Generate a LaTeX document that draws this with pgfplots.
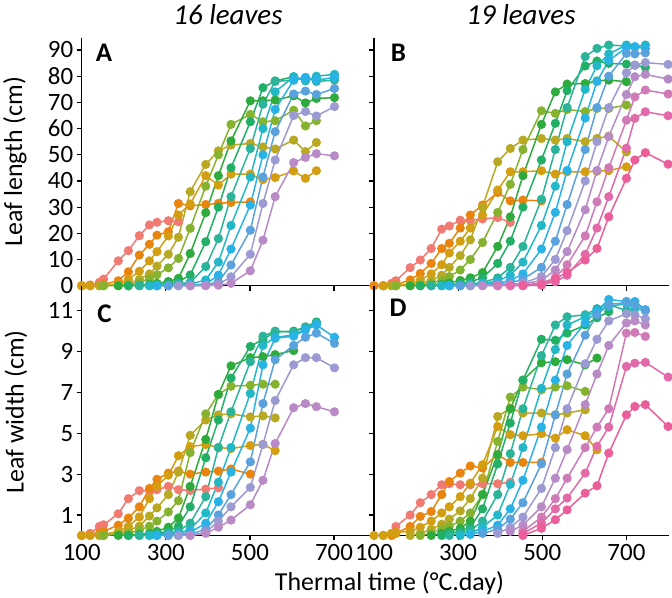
\documentclass[border=0pt]{standalone}
\usepackage{fontspec}
\setmainfont{Carlito}
\usepackage{pgfplots}
\pgfplotsset{compat=1.18}

\definecolor{c1}{HTML}{F17B72}
\definecolor{c2}{HTML}{E9850F}
\definecolor{c3}{HTML}{D49E12}
\definecolor{c4}{HTML}{B8A822}
\definecolor{c5}{HTML}{86B32F}
\definecolor{c6}{HTML}{2EAB3C}
\definecolor{c7}{HTML}{22AF66}
\definecolor{c8}{HTML}{2BB49A}
\definecolor{c9}{HTML}{22B8C8}
\definecolor{c10}{HTML}{29B2E5}
\definecolor{c11}{HTML}{5AA2DD}
\definecolor{c12}{HTML}{9C9AD3}
\definecolor{c13}{HTML}{B88AC6}
\definecolor{c14}{HTML}{D07BB8}
\definecolor{c15}{HTML}{E26AA8}
\definecolor{c16}{HTML}{EC5E9A}

\pgfplotsset{
  panel/.style={
    scale only axis,
    anchor=south west,
    axis x line*=bottom, axis y line*=left,
    axis line style={line width=1.3bp, -},
    tick align=outside,
    major tick length=5bp,
    tick style={line width=1.2bp, black},
    xmin=100,
    xtick={100,300,500,700},
    clip=false,
    ticklabel style={font=\fontsize{25}{25}\selectfont},
    /pgf/number format/assume math mode=true,
    every axis plot/.append style={line width=1.5bp, mark=*, mark size=3.8bp},
  },
}

\begin{document}
\begin{tikzpicture}
\path[use as bounding box] (0,0) rectangle (672bp,598bp);

% ---------------- Panel A : 16 leaves, length
\begin{axis}[panel, at={(81.7bp,312.3bp)}, width=292.3bp, height=248bp,
  xmax=795, ymin=0, ymax=94.7, ytick={0,10,...,90}, xticklabels={}]
\addplot[c1] coordinates {(100,0)(120,0.3)(142,1.3)(152,2.5)(187,9.5)(211,13.4)(237,19.1)(261,23.2)(279,24.2)(306,24.8)(330,24.4)};
\addplot[c2] coordinates {(100,0)(120,0)(142,0.2)(152,0.5)(187,1.9)(211,5.3)(237,11.7)(261,15.8)(279,19.3)(306,20.6)(330,31.4)(358,30.5)(395,31)(425,31.4)(455,31.8)(501,32)};
\addplot[c3] coordinates {(100,0)(120,0)(142,0)(152,0.1)(187,0.5)(211,2.4)(237,5.5)(261,9.5)(279,13)(306,19)(330,27)(358,31.2)(395,42)(425,38.4)(455,42.6)(501,42.6)(531,40.5)(560,41.3)(604,43.8)(632,41)(658,43.9)};
\addplot[c4] coordinates {(142,0)(152,0)(187,0.2)(211,0.8)(237,2.4)(261,4.5)(279,7.5)(306,12)(330,18.5)(358,35.9)(395,46.3)(425,51.5)(455,53.7)(501,54.3)(531,53)(560,52.2)(604,55.6)(632,51.2)(658,54.7)};
\addplot[c5] coordinates {(152,0)(187,0)(211,0.3)(237,1.2)(261,2.6)(279,4.2)(306,6.8)(330,10.4)(358,21.9)(395,38)(425,50)(455,61.6)(501,65.4)(531,62.6)(560,63)(604,67)(632,61)(658,63)};
\addplot[c6] coordinates {(187,0)(211,0)(237,0.2)(261,0.5)(279,0.9)(306,1.6)(330,2.8)(358,12.3)(395,27.9)(425,42)(455,55.3)(501,70.6)(531,70.6)(560,70.9)(604,72.5)(632,69.8)(658,71.5)(701,71.8)};
\addplot[c7] coordinates {(211,0)(237,0)(261,0.2)(279,0.4)(306,0.8)(330,1.5)(358,4.1)(395,16.8)(425,30)(455,45)(501,62.6)(531,75.6)(560,78.2)(604,79.8)(632,78.5)(658,79)};
\addplot[c8] coordinates {(237,0)(261,0)(279,0.1)(306,0.3)(330,0.7)(358,1.3)(395,7.3)(425,18)(455,34)(501,52.4)(531,69.3)(560,78)(604,78.5)(632,79.5)(658,78)(701,78.5)};
\addplot[c9] coordinates {(261,0)(279,0)(306,0.1)(330,0.3)(358,0.6)(395,2.2)(425,9)(455,23)(501,41.5)(531,60)(560,74)(604,79.8)(632,78.2)(658,80)(701,80.7)};
\addplot[c10] coordinates {(279,0)(306,0)(330,0.1)(358,0.3)(395,0.6)(425,4)(455,14)(501,30.8)(531,50)(560,67.3)(604,78.5)(632,79.5)(658,78.5)(701,79.5)};
\addplot[c11] coordinates {(306,0)(330,0)(358,0.1)(395,0.3)(425,1.5)(455,7.9)(501,21.2)(531,41.5)(560,58.8)(604,73.2)(632,74.3)(658,73)(701,75.3)};
\addplot[c12] coordinates {(330,0)(358,0)(395,0.1)(425,0.5)(455,3.4)(501,12)(531,31.4)(560,48)(604,65)(632,66.5)(658,64.8)(701,68.4)};
\addplot[c13] coordinates {(358,0)(395,0)(425,0.2)(455,0.9)(501,5.7)(531,17.4)(560,34)(604,47)(632,49)(658,50.4)(701,49.6)};
\end{axis}

% ---------------- Panel B : 19 leaves, length
\begin{axis}[panel, at={(374bp,312.3bp)}, width=294.5bp, height=248bp,
  xmax=800, ymin=0, ymax=94.7, ytick={0,10,...,90}, xticklabels={}, yticklabels={}]
\addplot[c1] coordinates {(100,0)(122,0)(142,0.9)(152,1.9)(186,6.9)(210,9.8)(236,14.2)(261,21.6)(279,22.8)(305,25)(329,25)(358,25.5)(394,26)(424,24.2)};
\addplot[c2] coordinates {(100,0)(122,0)(142,0.2)(152,0.4)(186,2.2)(210,4.7)(236,8.5)(261,14.2)(279,16.2)(305,22)(329,27)(358,30.8)(394,35.6)(424,32.4)(454,32.7)(498,32.4)};
\addplot[c3] coordinates {(122,0)(142,0)(152,0.1)(186,0.6)(210,2.2)(236,4.5)(261,8)(279,12.5)(305,17)(329,22)(358,27)(394,36.5)(424,43.5)(454,43.5)(498,43.9)(531,42.6)(559,43.5)(602,43.5)(630,43.7)(658,44)(700,45.4)};
\addplot[c4] coordinates {(142,0)(152,0)(186,0.2)(210,0.8)(236,2)(261,4)(279,7)(305,11.5)(329,17.5)(358,30)(394,47.3)(424,52.4)(454,55.6)(498,56.2)(531,55.6)(559,56.2)(602,55)(630,56.2)(658,57.1)(700,51.1)};
\addplot[c5] coordinates {(152,0)(186,0)(210,0.3)(236,0.9)(261,2)(279,3.5)(305,6)(329,10)(358,16.5)(394,28)(424,38.7)(454,52)(498,66.8)(531,65.8)(559,67.3)(602,66.5)(630,67.7)(658,67.7)(700,69)};
\addplot[c6] coordinates {(186,0)(210,0)(236,0.2)(261,0.5)(279,1)(305,2)(329,3)(358,5)(394,15)(424,26.3)(454,42)(498,61.6)(531,74)(559,77)(602,77.2)(630,78.2)(658,78.5)(700,77.9)};
\addplot[c7] coordinates {(210,0)(236,0)(261,0.2)(279,0.4)(305,0.8)(329,1.5)(358,3)(394,8.5)(424,17)(454,30)(498,48)(531,62)(559,74.5)(602,83.9)(630,85.8)(658,84.9)(700,84.6)(720,84.2)(745,83.4)};
\addplot[c8] coordinates {(236,0)(261,0)(279,0.1)(305,0.3)(329,0.6)(358,1.2)(394,3)(424,7)(454,15)(498,33)(531,52)(559,68)(602,87.5)(630,90.6)(658,91.9)(700,91.5)};
\addplot[c9] coordinates {(261,0)(279,0)(305,0.1)(329,0.4)(358,0.8)(394,1.8)(424,4)(454,9)(498,23)(531,38)(559,55)(602,75)(630,84)(658,88.5)(700,91.9)(720,91.2)(745,91.9)};
\addplot[c10] coordinates {(279,0)(305,0)(329,0.1)(358,0.4)(394,1)(424,2)(454,4.5)(498,14)(531,28)(559,44)(602,64)(630,78)(658,86)(700,90.9)(720,91.3)(745,90.5)};
\addplot[c11] coordinates {(305,0)(329,0)(358,0.2)(394,0.5)(424,1)(454,2.5)(498,7)(531,17)(559,31)(602,52)(630,68)(658,80)(700,88.7)(720,88.5)(745,88.9)};
\addplot[c12] coordinates {(329,0)(358,0)(394,0.2)(424,0.5)(454,1)(498,3.5)(531,10)(559,21)(602,40)(630,55)(658,68)(700,81.3)(720,84.2)(745,85.2)(799,84.5)};
\addplot[c13] coordinates {(358,0)(394,0)(424,0.3)(454,0.6)(498,2)(531,6)(559,13)(602,29)(630,44)(658,57)(700,73)(720,79.8)(745,80.7)(799,78.9)};
\addplot[c14] coordinates {(394,0)(424,0)(454,0.3)(498,1)(531,3)(559,8)(602,19)(630,32)(658,45)(700,63.2)(720,72.1)(745,74.7)(799,73.2)};
\addplot[c15] coordinates {(424,0)(454,0)(498,0.5)(531,1.5)(559,4)(602,12)(630,22)(658,34)(700,52.5)(720,63.9)(745,66.4)(799,64.9)};
\addplot[c16] coordinates {(454,0)(498,0.2)(531,2.8)(559,5)(602,9.8)(630,14.2)(658,26.3)(700,41)(720,48)(745,50.8)(799,46.4)};
\end{axis}

% ---------------- Panel C : 16 leaves, width
\begin{axis}[panel, at={(81.7bp,62.57bp)}, width=292.3bp, height=249.7bp,
  xmax=795, ymin=0, ymax=12.22, ytick={1,3,...,11}]
\addplot[c1] coordinates {(100,0)(120,0.1)(142,0.44)(152,0.52)(187,1.06)(211,1.8)(237,2.19)(261,2.2)(279,2.24)(306,2.4)(330,2.24)(358,2.2)(395,2.27)(425,2.33)};
\addplot[c2] coordinates {(100,0)(120,0)(142,0.1)(152,0.2)(187,0.5)(211,0.85)(237,1.4)(261,2.3)(279,2.75)(306,3.05)(330,3.15)(358,3.0)(395,3.1)(425,3.15)(455,3.25)(501,3.0)};
\addplot[c3] coordinates {(100,0)(120,0)(142,0)(152,0.05)(187,0.2)(211,0.45)(237,0.9)(261,1.8)(279,2.4)(306,2.95)(330,3.9)(358,4.35)(395,4.45)(425,4.3)(455,4.25)(501,4.4)(531,4.45)(560,4.15)};
\addplot[c4] coordinates {(142,0)(152,0)(187,0.1)(211,0.25)(237,0.45)(261,0.95)(279,1.35)(306,2.0)(330,3.1)(358,4.9)(395,5.65)(425,5.9)(455,5.95)(501,5.8)(531,5.85)(560,5.75)};
\addplot[c5] coordinates {(152,0)(187,0.05)(211,0.1)(237,0.25)(261,0.45)(279,0.7)(306,1.15)(330,1.7)(358,4.05)(395,5.95)(425,6.9)(455,7.3)(501,7.35)(531,7.4)(560,7.4)};
\addplot[c6] coordinates {(187,0)(211,0)(237,0.05)(261,0.1)(279,0.2)(306,0.4)(330,0.85)(358,2.4)(395,4.7)(425,6.9)(455,8.3)(501,8.7)(531,8.75)(560,8.85)(604,9.05)};
\addplot[c7] coordinates {(211,0)(237,0)(261,0.05)(279,0.1)(306,0.2)(330,0.45)(358,1.4)(395,3.8)(425,5.65)(455,7.7)(501,9.25)(531,9.6)(560,9.95)(604,10.0)(632,10.2)(658,10.45)};
\addplot[c8] coordinates {(237,0)(261,0)(279,0.05)(306,0.1)(330,0.2)(358,0.6)(395,1.9)(425,4.3)(455,6.05)(501,8.5)(531,9.75)(560,10.0)(604,9.95)(632,10.2)(658,10.4)};
\addplot[c9] coordinates {(261,0)(279,0)(306,0.05)(330,0.1)(358,0.3)(395,1.1)(425,2.6)(455,4.3)(501,6.95)(531,9.3)(560,9.7)(604,9.8)(632,10.1)(658,10.35)};
\addplot[c10] coordinates {(279,0)(306,0)(330,0.05)(358,0.15)(395,0.6)(425,1.65)(455,3.1)(501,5.25)(531,8.35)(560,9.65)(604,9.75)(632,10.05)(658,10.3)(701,9.7)};
\addplot[c11] coordinates {(306,0)(330,0)(358,0.05)(395,0.3)(425,1.0)(455,2.0)(501,3.6)(531,6.45)(560,8.6)(604,9.3)(632,9.7)(658,9.9)(701,9.4)};
\addplot[c12] coordinates {(330,0)(358,0)(395,0.15)(425,0.7)(455,1.4)(501,2.35)(531,4.45)(560,6.6)(604,8.35)(632,8.7)(658,8.7)(701,8.2)};
\addplot[c13] coordinates {(358,0)(395,0.1)(425,0.4)(455,0.75)(501,1.5)(531,2.7)(560,4.5)(604,6.25)(632,6.45)(658,6.3)(701,6.05)};
\end{axis}

% ---------------- Panel D : 19 leaves, width
\begin{axis}[panel, at={(374bp,62.57bp)}, width=294.5bp, height=249.7bp,
  xmax=800, ymin=0, ymax=12.22, ytick={1,3,...,11}, yticklabels={}]
\addplot[c1] coordinates {(122,0)(142,0.1)(152,0.44)(186,1.0)(210,1.6)(236,2.0)(261,2.48)(279,2.53)(305,2.48)(329,2.48)(358,2.53)(394,2.53)(424,2.6)};
\addplot[c2] coordinates {(142,0)(152,0.1)(186,0.44)(210,0.93)(236,1.17)(261,2.0)(279,2.64)(305,3.05)(329,3.4)(358,3.3)(394,3.95)(424,3.57)(454,3.57)(498,3.57)};
\addplot[c3] coordinates {(100,0)(122,0)(142,0.1)(152,0.15)(186,0.2)(210,0.4)(236,0.7)(261,1.1)(279,1.4)(305,1.9)(329,2.56)(358,3.46)(394,5.33)(424,4.93)(454,4.88)(498,4.98)(531,4.76)(559,5.17)(602,4.88)(630,4.19)};
\addplot[c4] coordinates {(186,0)(210,0.1)(236,0.3)(261,0.55)(279,0.8)(305,1.2)(329,1.8)(358,2.8)(394,5.82)(424,6.23)(454,5.99)(498,5.99)(531,5.9)(559,5.99)(602,6.15)};
\addplot[c5] coordinates {(210,0)(236,0.1)(261,0.3)(279,0.45)(305,0.7)(329,1.1)(358,2.0)(394,4.6)(424,6.77)(454,7.26)(498,7.13)(531,7.26)(559,7.32)(602,7.05)};
\addplot[c6] coordinates {(236,0)(261,0.1)(279,0.2)(305,0.35)(329,0.7)(358,2.0)(394,3.95)(424,6.2)(454,7.6)(498,8.45)(531,8.5)(559,8.6)(602,8.35)(630,8.68)};
\addplot[c7] coordinates {(261,0)(279,0.1)(305,0.2)(329,0.4)(358,1.3)(394,3.5)(424,5.5)(454,7.6)(498,9.6)(531,9.55)(559,9.9)(602,10.3)(630,10.65)(658,10.95)};
\addplot[c8] coordinates {(279,0)(305,0.1)(329,0.25)(358,0.7)(394,2.0)(424,4.0)(454,6.2)(498,8.8)(531,10.3)(559,10.7)(602,10.8)(630,11.1)(658,11.3)(700,11.0)};
\addplot[c9] coordinates {(305,0)(329,0.1)(358,0.4)(394,1.0)(424,2.5)(454,4.3)(498,7.2)(531,9.1)(559,10.3)(602,10.7)(630,11.0)(658,11.2)(700,11.35)(720,11.1)(745,11.0)};
\addplot[c10] coordinates {(329,0.05)(358,0.2)(394,0.5)(424,1.3)(454,2.7)(498,5.3)(531,7.6)(559,9.3)(602,10.4)(630,11.0)(658,11.55)(700,11.45)(720,11.45)(745,11.05)};
\addplot[c11] coordinates {(358,0.1)(394,0.3)(424,0.8)(454,1.6)(498,3.5)(531,5.9)(559,7.9)(602,9.8)(630,10.8)(658,11.3)(700,11.4)(720,11.3)(745,11.0)};
\addplot[c12] coordinates {(394,0.1)(424,0.4)(454,0.9)(498,2.3)(531,4.3)(559,6.2)(602,8.4)(630,9.6)(658,10.5)(700,10.85)(720,10.8)(745,10.6)};
\addplot[c13] coordinates {(424,0.2)(454,0.5)(498,1.4)(531,2.8)(559,4.2)(602,6.4)(630,7.9)(658,9.3)(700,10.4)(720,10.5)(745,10.3)};
\addplot[c14] coordinates {(454,0.2)(498,0.9)(531,1.8)(559,2.8)(602,4.3)(630,5.3)(658,6.2)(700,9.9)(720,9.93)(745,9.74)};
\addplot[c15] coordinates {(454,0.1)(498,0.6)(531,1.3)(559,1.83)(602,3.05)(630,4.36)(658,5.3)(700,8.27)(720,8.43)(745,8.47)(799,7.75)};
\addplot[c16] coordinates {(454,0)(498,0.35)(531,0.77)(559,1.25)(602,2.07)(630,2.43)(658,4.03)(700,5.9)(720,6.31)(745,6.4)(799,5.33)};
\end{axis}

% ---------------- texts
\node[rotate=90, font=\fontsize{26}{26}\selectfont] at (15bp,436.3bp) {Leaf length (cm)};
\node[rotate=90, font=\fontsize{26}{26}\selectfont] at (16bp,186bp) {Leaf width (cm)};
\node[anchor=base, font=\fontsize{26}{26}\selectfont] at (389.5bp,8bp) {Thermal time (°C.day)};
\node[anchor=base, font=\fontsize{29}{29}\selectfont\itshape] at (228bp,573bp) {16 leaves};
\node[anchor=base, font=\fontsize{29}{29}\selectfont\itshape] at (521bp,573bp) {19 leaves};
\node[font=\fontsize{27}{27}\selectfont\bfseries] at (104bp,545bp) {A};
\node[font=\fontsize{27}{27}\selectfont\bfseries] at (398.5bp,545.5bp) {B};
\node[font=\fontsize{27}{27}\selectfont\bfseries] at (104.5bp,284bp) {C};
\node[font=\fontsize{27}{27}\selectfont\bfseries] at (398bp,290bp) {D};
\end{tikzpicture}
\end{document}
